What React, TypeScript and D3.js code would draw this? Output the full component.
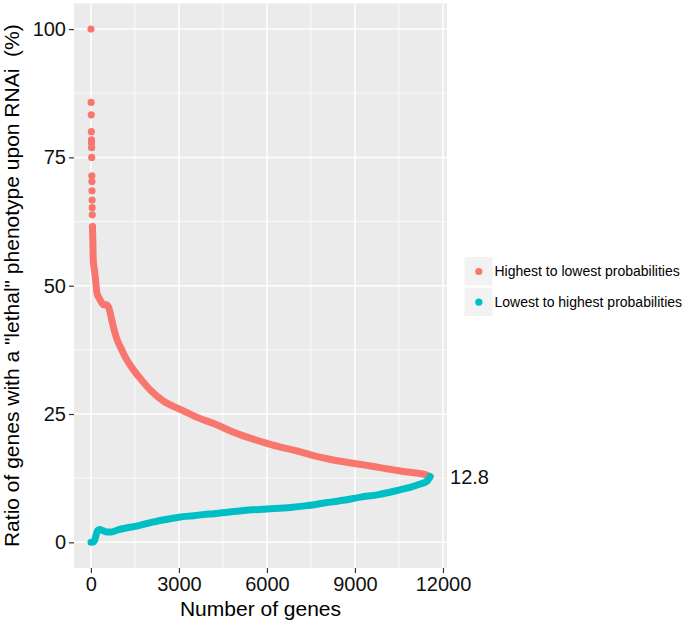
import React, { useEffect, useRef } from 'react';
import * as d3 from 'd3';

// "Highest to lowest probabilities": first few genes (sparse dots)
const redHeadGenes = [1, 7, 12, 15, 19, 22, 24, 28, 31, 34, 36, 40, 43, 46, 52];
const redHeadRatio = [100, 85.7, 83.3, 80.0, 78.4, 77.8, 76.9, 75.0, 71.4, 70.3, 68.5, 66.7, 65.2, 63.8, 61.5];

// dense part of the same series
const redGenes = [60, 80, 120, 160, 204, 300, 430, 520, 600, 700, 800, 900, 1000, 1200, 1450, 1700, 2020, 2475, 3040, 3600, 4290, 4800, 5430, 6000, 6500, 7020, 7585, 8400, 9290, 10000, 10800, 11450, 11560];
const redRatio = [60, 55, 53, 51, 48.6, 47.4, 46.3, 46.3, 45.8, 43.6, 41.2, 39.4, 38.1, 35.8, 33.6, 31.8, 29.7, 27.5, 25.9, 24.4, 22.9, 21.6, 20.3, 19.3, 18.5, 17.8, 16.9, 15.9, 15.1, 14.4, 13.7, 13.1, 12.8];

// "Lowest to highest probabilities"
const cyanGenes = [1, 50, 120, 180, 230, 300, 400, 550, 700, 900, 1200, 1600, 2000, 2500, 3000, 3500, 4000, 4600, 5200, 6000, 6800, 7300, 8000, 8600, 9200, 9800, 10300, 10800, 11200, 11450, 11560];
const cyanRatio = [0, 0, 0.3, 1.5, 2.3, 2.5, 2.3, 2.0, 2.0, 2.4, 2.8, 3.2, 3.8, 4.4, 4.9, 5.2, 5.5, 5.8, 6.2, 6.5, 6.8, 7.1, 7.7, 8.2, 8.8, 9.3, 9.9, 10.6, 11.3, 11.9, 12.8];

const xTicks = [0, 3000, 6000, 9000, 12000];
const xMinor = [1500, 4500, 7500, 10500];
const yTicks = [0, 25, 50, 75, 100];
const yMinor = [12.5, 37.5, 62.5, 87.5];

const seriesNames = ['Highest to lowest probabilities', 'Lowest to highest probabilities'];
const seriesColors = ['#F8766D', '#00BFC4'];
const endLabel = '12.8';

const App = () => {
  const svgRef = useRef(null);

  useEffect(() => {
    const svg = d3.select(svgRef.current);
    svg.selectAll('*').remove();
    const font = 'Liberation Sans, Arial, sans-serif';

    const left = 74, right = 447, top = 3.4, bottom = 568;

    const x = d3.scaleLinear().domain([-577, 12138]).range([left, right]);
    const y = d3.scaleLinear().domain([-5, 105]).range([bottom, top]);

    // panel
    svg.append('rect')
      .attr('x', left).attr('y', top)
      .attr('width', right - left).attr('height', bottom - top)
      .attr('fill', '#EBEBEB');

    // minor grid
    svg.selectAll('.xminor').data(xMinor).enter().append('line')
      .attr('x1', d => x(d)).attr('x2', d => x(d))
      .attr('y1', top).attr('y2', bottom)
      .attr('stroke', '#fff').attr('stroke-width', 0.7);
    svg.selectAll('.yminor').data(yMinor).enter().append('line')
      .attr('x1', left).attr('x2', right)
      .attr('y1', d => y(d)).attr('y2', d => y(d))
      .attr('stroke', '#fff').attr('stroke-width', 0.7);
    // major grid
    svg.selectAll('.xmajor').data(xTicks).enter().append('line')
      .attr('x1', d => x(d)).attr('x2', d => x(d))
      .attr('y1', top).attr('y2', bottom)
      .attr('stroke', '#fff').attr('stroke-width', 1.5);
    svg.selectAll('.ymajor').data(yTicks).enter().append('line')
      .attr('x1', left).attr('x2', right)
      .attr('y1', d => y(d)).attr('y2', d => y(d))
      .attr('stroke', '#fff').attr('stroke-width', 1.5);

    const line = d3.line<[number, number]>()
      .x(d => x(d[0])).y(d => y(d[1]))
      .curve(d3.curveMonotoneX);

    // red series
    const redDense = redGenes.map((g, i) => [g, redRatio[i]] as [number, number]);
    svg.append('path')
      .attr('d', line([[redHeadGenes[redHeadGenes.length - 1], redHeadRatio[redHeadRatio.length - 1]], ...redDense]))
      .attr('fill', 'none').attr('stroke', seriesColors[0])
      .attr('stroke-width', 7).attr('stroke-linecap', 'round').attr('stroke-linejoin', 'round');
    svg.selectAll('.redhead').data(redHeadGenes).enter().append('circle')
      .attr('cx', d => x(d)).attr('cy', (d, i) => y(redHeadRatio[i]))
      .attr('r', 3.6).attr('fill', seriesColors[0]);

    // cyan series
    const cyanPts = cyanGenes.map((g, i) => [g, cyanRatio[i]] as [number, number]);
    svg.append('path')
      .attr('d', line(cyanPts))
      .attr('fill', 'none').attr('stroke', seriesColors[1])
      .attr('stroke-width', 7).attr('stroke-linecap', 'round').attr('stroke-linejoin', 'round');

    // end label
    svg.append('text')
      .attr('x', x(cyanGenes[cyanGenes.length - 1]) + 20)
      .attr('y', y(cyanRatio[cyanRatio.length - 1]))
      .attr('dy', '0.35em')
      .attr('font-family', font).attr('font-size', 20).attr('fill', '#111')
      .text(endLabel);

    // axes
    const xAxis = svg.append('g').attr('transform', `translate(0,${bottom})`)
      .call(d3.axisBottom(x).tickValues(xTicks).tickFormat(d3.format('d')).tickSize(5).tickPadding(4));
    const yAxis = svg.append('g').attr('transform', `translate(${left},0)`)
      .call(d3.axisLeft(y).tickValues(yTicks).tickFormat(d3.format('d')).tickSize(5).tickPadding(3));
    [xAxis, yAxis].forEach(a => {
      a.select('.domain').remove();
      a.selectAll('line').attr('stroke', '#333').attr('stroke-width', 1.2);
      a.selectAll('text').attr('font-family', font).attr('font-size', 20).attr('fill', '#111');
    });

    // titles
    svg.append('text')
      .attr('x', (left + right) / 2).attr('y', 616)
      .attr('text-anchor', 'middle')
      .attr('font-family', font).attr('font-size', 21).attr('fill', '#000')
      .text('Number of genes');
    svg.append('text')
      .attr('transform', `translate(19,${(top + bottom) / 2}) rotate(-90)`)
      .attr('text-anchor', 'middle')
      .attr('font-family', font).attr('font-size', 21).attr('fill', '#000')
      .attr('xml:space', 'preserve')
      .text('Ratio of genes with a "lethal" phenotype upon RNAi  (%)');

    // legend
    const lg = svg.append('g').attr('transform', 'translate(464.5,257)');
    seriesNames.forEach((name, i) => {
      const row = lg.append('g').attr('transform', `translate(0,${i * 30.7})`);
      row.append('rect').attr('width', 28).attr('height', 28.3).attr('fill', '#F2F2F2');
      row.append('circle').attr('cx', 14.3).attr('cy', 14.5).attr('r', 3.6).attr('fill', seriesColors[i]);
      row.append('text').attr('x', 30).attr('y', 14.5).attr('dy', '0.35em')
        .attr('font-family', font).attr('font-size', 14).attr('fill', '#000')
        .text(name);
    });
  }, []);

  return (
    <svg ref={svgRef} width="685" height="624" style={{ display: 'block', position: 'absolute', left: 0, top: 0 }}>
    </svg>
  );
};

export default App;
